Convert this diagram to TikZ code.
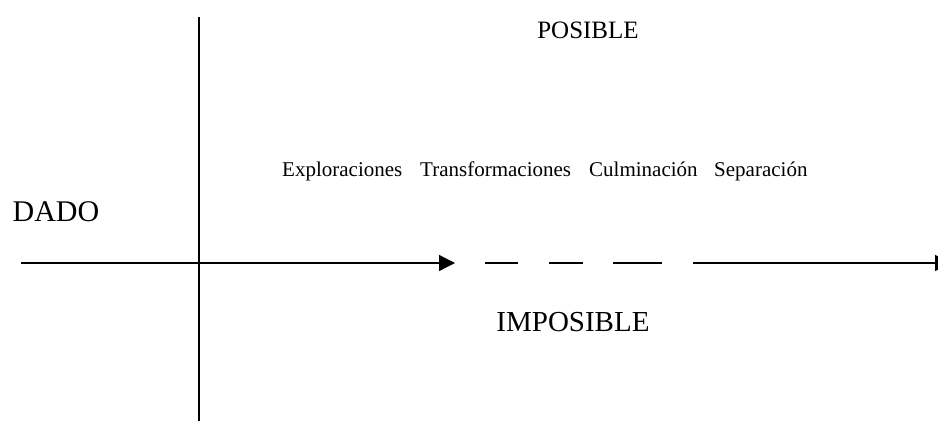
\documentclass[tikz,border=0pt]{standalone}
\usepackage{fontspec}
\setmainfont{Liberation Serif}
\usetikzlibrary{arrows.meta}
\begin{document}
\begin{tikzpicture}[x=1pt,y=-1pt,
  axis/.style={line width=1.3pt,black},
  tipped/.style={axis,-{Triangle[length=16pt,width=16pt]}},
  word/.style={anchor=base west,inner sep=0pt,font=\fontsize{21}{24}\selectfont},
  big/.style={anchor=base,inner sep=0pt}]
\useasboundingbox (0,0) rectangle (938,421);
% axes
\coordinate (vtop) at (199,17);
\coordinate (vbot) at (199,421);
\coordinate (hl) at (21,263);
\coordinate (ha) at (455,263);
\coordinate (d1a) at (485,263); \coordinate (d1b) at (518,263);
\coordinate (d2a) at (549,263); \coordinate (d2b) at (583,263);
\coordinate (d3a) at (613,263); \coordinate (d3b) at (662,263);
\coordinate (ra) at (693,263); \coordinate (rb) at (951,263);
\draw[axis] (vtop) -- (vbot);
\draw[tipped] (hl) -- (ha);
\draw[axis] (d1a) -- (d1b);
\draw[axis] (d2a) -- (d2b);
\draw[axis] (d3a) -- (d3b);
\draw[tipped] (ra) -- (rb);
% labels
\node[big,font=\fontsize{25}{28}\selectfont] (pos) at (588,38) {POSIBLE};
\node[big,font=\fontsize{29}{32}\selectfont] (imp) at (573,331) {IMPOSIBLE};
\node[big,font=\fontsize{30}{33}\selectfont] (dado) at (56,221) {DADO};
\node[word] (w1) at (282,176) {Exploraciones};
\node[word] (w2) at (420,176) {Transformaciones};
\node[word] (w3) at (589,176) {Culminación};
\node[word] (w4) at (714,176) {Separación};
\end{tikzpicture}
\end{document}
